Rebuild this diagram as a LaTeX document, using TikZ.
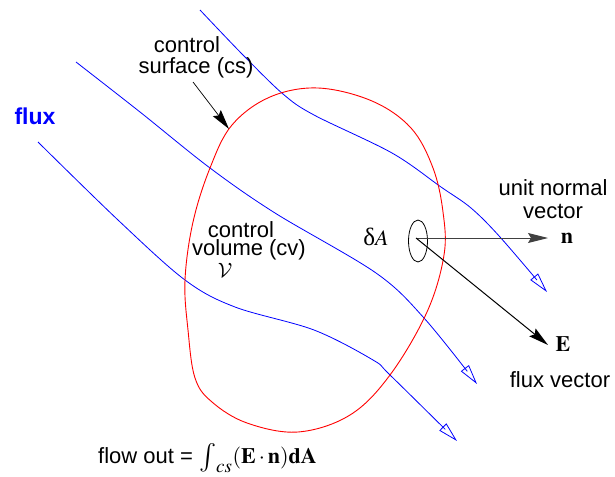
\documentclass[tikz,border=0pt]{standalone}
\usepackage{graphicx}
\usepackage{mathptmx}
\usepackage[no-math]{fontspec}
\setmainfont{Liberation Sans}
\newfontfamily\serifx{Liberation Serif}
\DeclareMathAlphabet{\cmcalx}{OMS}{cmsy}{m}{n}
\usetikzlibrary{arrows.meta,shapes.geometric}
\definecolor{fluxblue}{RGB}{0,0,255}
\definecolor{surfred}{RGB}{255,0,0}
\tikzset{
  lbl/.style={inner sep=0pt, font=\fontsize{22}{23}\selectfont, align=center},
  mth/.style={inner sep=0pt, font=\fontsize{22}{23}\selectfont},
  fluxline/.style={draw=fluxblue, line width=0.8pt, -{Triangle[open, length=20pt, width=10pt, line width=0.8pt]}},
  surf/.style={draw=surfred, line width=0.9pt},
  vecarrow/.style={line width=1pt, -{Stealth[length=20pt, width=10pt, inset=3pt]}},
}
\begin{document}
\begin{tikzpicture}[x=1pt, y=-1pt]
\useasboundingbox (0,0) rectangle (615,476);

% flux lines
\draw[fluxline] plot[smooth, tension=0.55] coordinates {(200,10) (243,55) (283,94) (314,115) (392,153) (441,187) (471,208) (500,237) (547,292)};
\draw[fluxline] plot[smooth, tension=0.55] coordinates {(76,62) (140,112) (210,168) (275,213) (376,273) (424,318) (477,384)};
\draw[fluxline] plot[smooth, tension=0.55] coordinates {(38,142) (118,220) (185,280) (235,307) (314,330) (373,360) (390,375) (457,441)};

% control surface
\draw[surf] plot[smooth cycle, tension=0.6] coordinates {(318,88) (372,101) (411,128) (433,168) (443,212) (444,255) (427,312) (390,375) (350,415) (298,432) (247,423) (212,402) (195,378) (188,330) (185,280) (193,222) (210,168) (232,125) (270,97)};

% labels
\node[lbl, text=fluxblue, font=\fontsize{23}{24}\selectfont\bfseries] (flux) at (35,116) {flux};
\node[lbl] (ctl1) at (187,45) {control};
\node[lbl] (ctl2) at (196,68) {surface (cs)};
\coordinate (csfrom) at (193,82);
\coordinate (csto) at (229,129);
\draw[vecarrow, line width=0.7pt] (csfrom) -- (csto);

\node[lbl] (cv1) at (241,230) {control};
\node[lbl] (cv2) at (249,250) {volume (cv)};
\node[mth] (vol) at (225,270) {$\cmcalx{V}$};

% area element
\node[draw, ellipse, minimum width=19pt, minimum height=42pt, inner sep=0pt, line width=0.8pt] (dA) at (418,241) {};
\coordinate (dAc) at (416,238);
\node[mth] (dAlbl) at (376,237) {{\serifx\fontsize{25}{25}\selectfont δ}$A$};

\coordinate (ntip) at (548,238);
\coordinate (etip) at (548,345);
\draw[vecarrow, draw=black!75] (dAc) -- (ntip);
\draw[vecarrow] (dAc) -- (etip);
\node[mth] (nlbl) at (567,238) {$\mathbf{n}$};
\node[mth] (elbl) at (563,344) {$\mathbf{E}$};

\node[lbl] (unl) at (553,199) {unit normal\\vector};
\node[lbl] (fv) at (560,380) {flux vector};

\node[mth, anchor=base west] (flow) at (98,463) {flow out = $\mathop{\raisebox{-2pt}{\scalebox{1.3}{$\int$}}}\nolimits_{\hbox{\fontsize{19}{19}\selectfont$cs$}}(\mathbf{E}\cdot\mathbf{n})\mathbf{dA}$};
\end{tikzpicture}
\end{document}
